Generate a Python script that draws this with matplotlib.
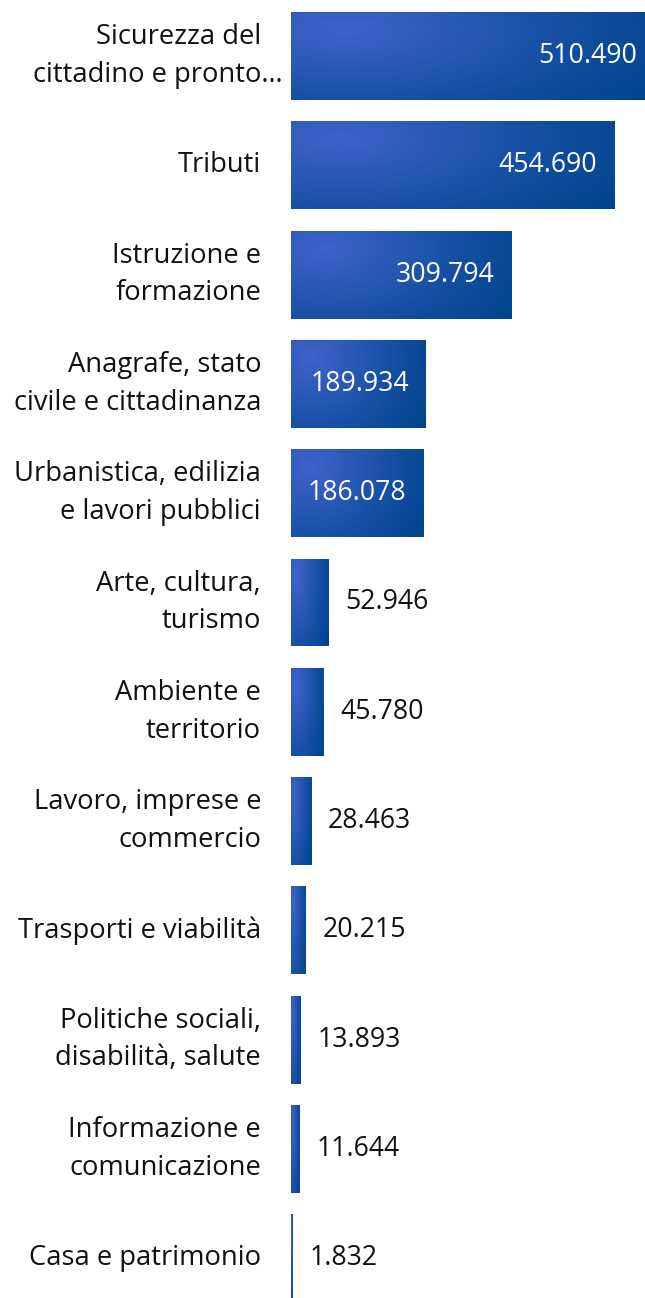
import numpy as np
import matplotlib
matplotlib.use('Agg')
import matplotlib.pyplot as plt
from matplotlib.colors import LinearSegmentedColormap
from matplotlib.patches import Rectangle

# data
# ---

categories = [
    'Sicurezza del\ncittadino e pronto…',
    'Tributi',
    'Istruzione e\nformazione',
    'Anagrafe, stato\ncivile e cittadinanza',
    'Urbanistica, edilizia\ne lavori pubblici',
    'Arte, cultura,\nturismo',
    'Ambiente e\nterritorio',
    'Lavoro, imprese e\ncommercio',
    'Trasporti e viabilità',
    'Politiche sociali,\ndisabilità, salute',
    'Informazione e\ncomunicazione',
    'Casa e patrimonio',
]
values = [510490, 454690, 309794, 189934, 186078, 52946, 45780, 28463, 20215, 13893, 11644, 1832]
value_labels = ['510.490', '454.690', '309.794', '189.934', '186.078', '52.946',
                '45.780', '28.463', '20.215', '13.893', '11.644', '1.832']

plt.rcParams['font.family'] = ['Open Sans', 'DejaVu Sans']

W, H = 645, 1298
fig = plt.figure(figsize=(W/100, H/100), dpi=100)

# axes placed in pixels, extends past the right and bottom edges like the original
x0 = 291
px_per_unit = 0.7105/1000
xmax = 520000
pitch = 109.3
top_px = 56 - pitch/2
ax_h = pitch*len(values)
ax = fig.add_axes([x0/W, (H - top_px - ax_h)/H, xmax*px_per_unit/W, ax_h/H])
ax.set_xlim(0, xmax)
ax.set_ylim(len(values) - 0.5, -0.5)
ax.axis('off')

# radial gradient used for each bar
cmap = LinearSegmentedColormap.from_list('bar', ['#3f63ca', '#2858b5', '#0f4d9f', '#00458d'])
uu, vv = np.meshgrid(np.linspace(0, 1, 200), np.linspace(0, 1, 100))
dist = np.sqrt(((uu - 0.15)/1.0)**2 + ((vv - 0.2)/1.4)**2)
dist = dist / dist.max()

bar_h = 0.805
fs_lab = 19.7
fs_val = 19.2
txt_col = '#111111'
for i, (v, lab) in enumerate(zip(values, value_labels)):
    y0 = i - bar_h/2
    rect = Rectangle((0, y0), v, bar_h, facecolor='none', edgecolor='none')
    ax.add_patch(rect)
    im = ax.imshow(dist, cmap=cmap, vmin=0, vmax=1, aspect='auto',
                   extent=(0, v, i + bar_h/2, y0), interpolation='bilinear')
    im.set_clip_path(rect)

    # value label inside for long bars, outside for short ones
    if v > 150000:
        ax.annotate(lab, xy=(v, i), xytext=(-17, 0), textcoords='offset pixels',
                    ha='right', va='center', color='white', fontsize=fs_val)
    else:
        ax.annotate(lab, xy=(v, i), xytext=(17, 0), textcoords='offset pixels',
                    ha='left', va='center', color=txt_col, fontsize=fs_val)

    lines = categories[i].split('\n')
    if lines[-1].endswith('…'):
        # truncated label: the last line runs past the right margin
        ax.annotate(lines[0], xy=(0, i), xytext=(-30, 19), textcoords='offset pixels',
                    ha='right', va='center', color=txt_col, fontsize=fs_lab,
                    annotation_clip=False)
        ax.annotate(lines[1], xy=(0, i), xytext=(-8, -19), textcoords='offset pixels',
                    ha='right', va='center', color=txt_col, fontsize=fs_lab,
                    annotation_clip=False)
    else:
        ax.annotate(categories[i], xy=(0, i), xytext=(-30, 0), textcoords='offset pixels',
                    ha='right', va='center', color=txt_col, fontsize=fs_lab,
                    multialignment='right', linespacing=1.45, annotation_clip=False)

ax.set_xlim(0, xmax)
ax.set_ylim(len(values) - 0.5, -0.5)

plt.savefig('out.png', dpi=100)
plt.close()
